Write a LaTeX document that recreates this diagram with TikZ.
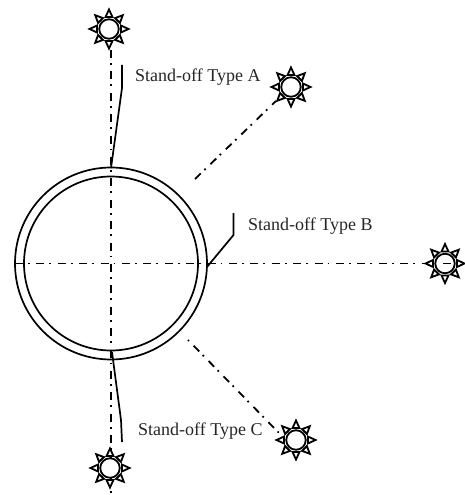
\documentclass[tikz,border=0pt]{standalone}
\usepackage{fontspec}
\setmainfont{Liberation Serif}
\usetikzlibrary{calc}
\tikzset{
  centerline/.style={line width=1.8pt,dash pattern=on 8pt off 5pt on 1.7pt off 6.7pt},
  ring/.style={line width=1.7pt},
  leader/.style={line width=1.7pt},
  lbl/.style={anchor=west,inner sep=0pt,font=\fontsize{18pt}{20pt}\selectfont,text=black!85},
  hub/.style={circle,draw,fill=white,line width=1.8pt,minimum size=19.5pt,inner sep=0pt},
  ray/.style={line width=1.8pt,line join=miter,fill=white}
}
\begin{document}
\begin{tikzpicture}[x=1pt,y=-1pt]
    \useasboundingbox (0,0) rectangle (464,495);

    % centre and rings
    \coordinate (c) at (111,263.5);
    \node[ring,draw,circle,minimum size=192pt,inner sep=0pt] (outer) at (c) {};
    \node[ring,draw,circle,minimum size=174pt,inner sep=0pt] (inner) at (c) {};

    % center lines
    \coordinate (topend) at (110.7,50);
    \coordinate (botend) at (110.7,494);
    \coordinate (leftend) at (15,263.5);
    \coordinate (rightend) at (451,263.5);
    \coordinate (diagAa) at (195,179);
    \coordinate (diagAb) at (276,101);
    \coordinate (diagBa) at (188,340);
    \coordinate (diagBb) at (280,434);
    \draw[centerline] (topend) -- (botend);
    \draw[centerline] (leftend) -- (rightend);
    \draw[centerline] (diagAa) -- (diagAb);
    \draw[centerline,dash phase=13.4pt] (diagBa) -- (diagBb);

    % holes
    \node[hub] (sunA) at (109,29) {};
    \node[hub] (sunB) at (291,87) {};
    \node[hub,fill=none] (sunC) at (445,263.5) {};
    \node[hub] (sunD) at (296,440) {};
    \node[hub] (sunE) at (110,468) {};
    \foreach \s in {sunA,sunB,sunC,sunD,sunE} {
      \foreach \a in {0,45,...,315} {
        \draw[ray] ($(\s)+(\a-16:12.5pt)$) -- ($(\s)+(\a:19.5pt)$) -- ($(\s)+(\a+16:12.5pt)$) -- cycle;
      }
    }

    % stand-off leaders
    \coordinate (legA) at (122,65);
    \coordinate (kneeA) at (122,88);
    \coordinate (footA) at (111,168);
    \coordinate (legB) at (233.5,213);
    \coordinate (kneeB) at (233.5,235);
    \coordinate (footB) at (207,267);
    \coordinate (legC) at (122,442);
    \coordinate (kneeC) at (121,420);
    \coordinate (footC) at (112,352);
    \draw[leader] (legA) -- (kneeA) -- (footA);
    \draw[leader] (legB) -- (kneeB) -- (footB);
    \draw[leader] (legC) -- (kneeC) -- (footC);

    % labels
    \node[lbl] (typeA) at (135,77) {Stand-off Type A};
    \node[lbl] (typeB) at (248,226) {Stand-off Type B};
    \node[lbl] (typeC) at (138,431) {Stand-off Type C};
\end{tikzpicture}
\end{document}
